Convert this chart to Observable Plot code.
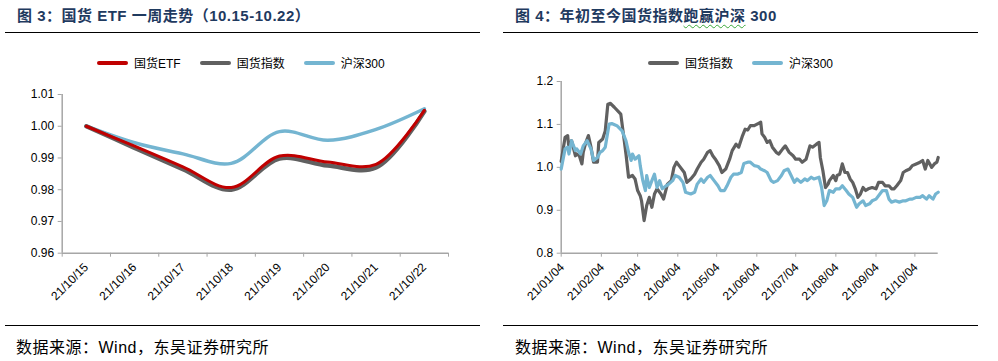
<!DOCTYPE html>
<html><head><meta charset="utf-8">
<script src="https://cdn.jsdelivr.net/npm/d3@7"></script>
<script src="https://cdn.jsdelivr.net/npm/@observablehq/plot@0.6"></script>
<style>
body{margin:0;background:#fff;width:998px;height:361px;overflow:hidden;position:relative;font-family:"Liberation Sans",Arial,"Noto Sans CJK SC",sans-serif;}
.panel{position:absolute;top:0;width:499px;height:361px;}
.title{position:absolute;top:4px;font-weight:700;font-size:15px;letter-spacing:0.5px;font-family:"Liberation Sans","Noto Sans CJK SC",sans-serif;color:#1f3a5f;white-space:nowrap;}
.wavy{text-decoration:underline wavy #3aa83a;text-decoration-thickness:1px;text-underline-offset:3px;}
.rule{position:absolute;height:0;border-top:1.4px solid #000;}
.legend{position:absolute;top:54px;display:flex;align-items:center;font-size:12px;color:#000;white-space:nowrap;font-family:"Liberation Sans","Noto Sans CJK SC",sans-serif;}
.sw{display:inline-block;width:31px;height:4px;border-radius:2px;margin-right:6px;}
.item{display:flex;align-items:center;margin-right:19px;}
.src{position:absolute;top:334px;left:16px;font-size:16px;letter-spacing:0.5px;color:#000;white-space:nowrap;font-family:"Liberation Sans","Noto Sans CJK SC",sans-serif;}
.chart{position:absolute;}
</style></head>
<body>
<div class="panel" id="p1" style="left:0">
  <div class="title" style="left:17px">图 3：国货 ETF 一周走势（10.15-10.22）</div>
  <div class="rule" style="left:5px;width:475px;top:32px"></div>
  <div class="legend" id="leg1" style="left:97px"></div>
  <div class="chart" id="c1" style="left:0;top:80px"></div>
  <div class="rule" style="left:5px;width:475px;top:325px"></div>
  <div class="src">数据来源：Wind，东吴证券研究所</div>
</div>
<div class="panel" id="p2" style="left:499px">
  <div class="title" style="left:16px">图 4：年初至今国货指数<span class="wavy">跑赢沪深</span> 300</div>
  <div class="rule" style="left:4px;width:475px;top:32px"></div>
  <div class="legend" id="leg2" style="left:149px"></div>
  <div class="chart" id="c2" style="left:0;top:70px"></div>
  <div class="rule" style="left:4px;width:475px;top:325px"></div>
  <div class="src">数据来源：Wind，东吴证券研究所</div>
</div>
<script>
// ---------- Figure 3 data ----------
const weekDates = ["21/10/15","21/10/16","21/10/17","21/10/18","21/10/19","21/10/20","21/10/21","21/10/22"];
const etfValues   = [1.000, 0.9937, 0.9872, 0.9807, 0.9906, 0.9887, 0.9880, 1.0050];
const indexWeek   = [1.000, 0.9932, 0.9865, 0.9800, 0.9898, 0.9876, 0.9870, 1.0047];
const hs300Week   = [1.000, 0.9948, 0.9913, 0.9883, 0.9983, 0.9956, 0.9990, 1.0055];
const weekYTicks  = [0.96, 0.97, 0.98, 0.99, 1.00, 1.01];

// ---------- Figure 4 data ----------
const indexDates = ["2021-01-04","2021-01-07","2021-01-09","2021-01-10","2021-01-12","2021-01-15","2021-01-16","2021-01-18","2021-01-20","2021-01-21","2021-01-23","2021-01-25","2021-01-27","2021-01-29","2021-02-01","2021-02-02","2021-02-05","2021-02-07","2021-02-09","2021-02-11","2021-02-14","2021-02-19","2021-02-21","2021-02-23","2021-02-25","2021-02-28","2021-03-02","2021-03-04","2021-03-06","2021-03-07","2021-03-09","2021-03-11","2021-03-13","2021-03-15","2021-03-17","2021-03-19","2021-03-22","2021-03-24","2021-03-27","2021-03-30","2021-04-01","2021-04-03","2021-04-05","2021-04-09","2021-04-11","2021-04-14","2021-04-17","2021-04-19","2021-04-22","2021-04-24","2021-04-27","2021-04-29","2021-05-01","2021-05-03","2021-05-06","2021-05-08","2021-05-11","2021-05-14","2021-05-16","2021-05-19","2021-05-21","2021-05-24","2021-05-26","2021-05-28","2021-05-30","2021-06-02","2021-06-05","2021-06-07","2021-06-08","2021-06-10","2021-06-12","2021-06-14","2021-06-16","2021-06-19","2021-06-21","2021-06-24","2021-06-26","2021-06-29","2021-07-02","2021-07-04","2021-07-07","2021-07-09","2021-07-12","2021-07-15","2021-07-17","2021-07-20","2021-07-22","2021-07-23","2021-07-25","2021-07-27","2021-07-29","2021-07-30","2021-08-02","2021-08-04","2021-08-05","2021-08-07","2021-08-09","2021-08-11","2021-08-13","2021-08-15","2021-08-17","2021-08-19","2021-08-21","2021-08-23","2021-08-25","2021-08-27","2021-08-29","2021-09-01","2021-09-04","2021-09-06","2021-09-09","2021-09-11","2021-09-14","2021-09-16","2021-09-18","2021-09-20","2021-09-23","2021-09-25","2021-09-27","2021-09-30","2021-10-02","2021-10-05","2021-10-08","2021-10-10","2021-10-12","2021-10-14","2021-10-17","2021-10-19","2021-10-21","2021-10-22"];
const indexValues = [1.014,1.070,1.074,1.043,1.062,1.027,1.031,1.027,1.008,1.035,1.058,1.074,1.047,1.012,1.012,1.058,1.066,1.085,1.147,1.149,1.140,1.124,1.078,1.031,0.977,0.981,0.973,0.946,0.934,0.922,0.876,0.911,0.930,0.907,0.938,0.950,0.938,0.926,0.961,0.969,1.000,1.012,1.004,0.988,0.965,0.973,0.984,0.996,1.012,1.019,1.035,1.039,1.027,1.019,1.004,0.988,0.996,1.019,1.039,1.054,1.047,1.074,1.089,1.087,1.097,1.097,1.102,1.105,1.078,1.070,1.058,1.062,1.047,1.035,1.031,1.043,1.050,1.035,1.027,1.019,1.019,1.012,1.019,1.050,1.047,1.054,1.058,1.023,0.992,0.953,0.961,0.969,0.981,0.969,0.981,0.984,1.008,0.988,0.988,0.973,0.965,0.950,0.930,0.938,0.953,0.946,0.950,0.953,0.950,0.965,0.965,0.957,0.957,0.950,0.950,0.957,0.969,0.988,0.992,0.996,1.004,1.008,1.012,1.016,0.996,1.016,1.000,1.008,1.012,1.023];

const hs300Dates = ["2021-01-04","2021-01-07","2021-01-09","2021-01-10","2021-01-12","2021-01-15","2021-01-16","2021-01-19","2021-01-21","2021-01-24","2021-01-27","2021-01-29","2021-02-01","2021-02-03","2021-02-05","2021-02-07","2021-02-10","2021-02-12","2021-02-16","2021-02-20","2021-02-23","2021-02-25","2021-02-27","2021-02-28","2021-03-02","2021-03-05","2021-03-06","2021-03-08","2021-03-10","2021-03-11","2021-03-13","2021-03-15","2021-03-17","2021-03-19","2021-03-21","2021-03-23","2021-03-26","2021-03-28","2021-03-31","2021-04-02","2021-04-05","2021-04-08","2021-04-10","2021-04-14","2021-04-17","2021-04-19","2021-04-22","2021-04-24","2021-04-27","2021-04-29","2021-05-02","2021-05-05","2021-05-07","2021-05-10","2021-05-12","2021-05-15","2021-05-17","2021-05-20","2021-05-23","2021-05-25","2021-05-28","2021-05-30","2021-06-02","2021-06-05","2021-06-07","2021-06-10","2021-06-12","2021-06-15","2021-06-17","2021-06-20","2021-06-23","2021-06-25","2021-06-28","2021-06-30","2021-07-03","2021-07-05","2021-07-08","2021-07-11","2021-07-13","2021-07-16","2021-07-18","2021-07-22","2021-07-24","2021-07-26","2021-07-28","2021-07-30","2021-08-02","2021-08-04","2021-08-07","2021-08-09","2021-08-12","2021-08-14","2021-08-17","2021-08-20","2021-08-22","2021-08-25","2021-08-27","2021-08-30","2021-09-01","2021-09-04","2021-09-07","2021-09-09","2021-09-12","2021-09-14","2021-09-16","2021-09-19","2021-09-22","2021-09-25","2021-09-27","2021-09-30","2021-10-02","2021-10-05","2021-10-08","2021-10-10","2021-10-13","2021-10-15","2021-10-18","2021-10-20","2021-10-22"];
const hs300Values = [0.996,1.043,1.047,1.031,1.062,1.039,1.043,1.031,1.050,1.062,1.043,1.016,1.023,1.035,1.039,1.047,1.101,1.102,1.097,1.085,1.062,1.035,1.016,1.031,1.019,1.027,1.004,0.969,0.946,0.981,0.953,0.969,0.984,0.953,0.969,0.950,0.957,0.961,0.969,0.981,0.977,0.965,0.942,0.938,0.942,0.961,0.973,0.965,0.977,0.981,0.969,0.957,0.946,0.946,0.957,0.977,0.984,0.984,0.988,1.009,1.012,1.012,1.004,1.002,0.996,0.992,0.988,0.969,0.965,0.969,0.981,0.992,0.996,0.984,0.965,0.973,0.965,0.973,0.969,0.977,0.973,0.977,0.953,0.911,0.922,0.946,0.942,0.950,0.950,0.957,0.946,0.938,0.930,0.907,0.915,0.922,0.911,0.915,0.922,0.926,0.938,0.946,0.946,0.926,0.919,0.922,0.919,0.922,0.922,0.926,0.926,0.930,0.930,0.934,0.926,0.934,0.926,0.938,0.942];

const monthTicks = ["2021-01-04","2021-02-04","2021-03-04","2021-04-04","2021-05-04","2021-06-04","2021-07-04","2021-08-04","2021-09-04","2021-10-04"];
const yearYTicks = [0.8, 0.9, 1.0, 1.1, 1.2];

// colours
const RED = "#c00000", GRAY = "#606060", BLUE = "#74b5d1", AXIS = "#a6a6a6";

function legend(el, items) {
  const box = document.getElementById(el);
  items.forEach(([name, color]) => {
    const it = document.createElement("div"); it.className = "item";
    const sw = document.createElement("span"); sw.className = "sw"; sw.style.background = color;
    const t = document.createElement("span"); t.textContent = name;
    it.append(sw, t); box.append(it);
  });
}
legend("leg1", [["国货ETF", RED], ["国货指数", GRAY], ["沪深300", BLUE]]);
legend("leg2", [["国货指数", GRAY], ["沪深300", BLUE]]);

const style = {fontFamily: "Liberation Sans, Arial, sans-serif", fontSize: "12px", color: "#000", background: "transparent", overflow: "visible"};

// ---------- Figure 3 ----------
const idx = weekDates.map((d, i) => i);
const weekData = (vals) => idx.map(i => ({i, v: vals[i]}));
const bounds = d3.range(-0.5, weekDates.length, 1);
const c1 = Plot.plot({
  width: 499, height: 240,
  marginLeft: 61.7, marginRight: 51, marginTop: 14, marginBottom: 67.3,
  style,
  x: {type: "linear", domain: [-0.5, weekDates.length - 0.5]},
  y: {domain: [0.96, 1.01]},
  marks: [
    Plot.axisY({ticks: weekYTicks, tickFormat: d3.format(".2f"), tickSize: 4, stroke: AXIS, tickPadding: 4, fill: "#000", label: null}),
    Plot.axisX({ticks: bounds, tickFormat: () => "", tickSize: 4, stroke: AXIS, label: null}),
    Plot.text(idx, {x: d => d, frameAnchor: "bottom", text: i => weekDates[i], rotate: -45, textAnchor: "end", lineAnchor: "middle", dy: 12, dx: 0, fill: "#000"}),
    Plot.ruleX([-0.5], {stroke: AXIS, strokeWidth: 1.5}),
    Plot.ruleY([0.96], {stroke: AXIS, strokeWidth: 1.5}),
    Plot.line(weekData(hs300Week), {x: "i", y: "v", stroke: BLUE, strokeWidth: 3.5, curve: "catmull-rom"}),
    Plot.line(weekData(indexWeek), {x: "i", y: "v", stroke: GRAY, strokeWidth: 4.5, curve: "catmull-rom"}),
    Plot.line(weekData(etfValues), {x: "i", y: "v", stroke: RED, strokeWidth: 3, curve: "catmull-rom"})
  ]
});
document.getElementById("c1").append(c1);

// ---------- Figure 4 ----------
const parse = d3.utcParse("%Y-%m-%d");
const idxSeries = indexDates.map((d, i) => ({date: parse(d), v: indexValues[i]}));
const hsSeries = hs300Dates.map((d, i) => ({date: parse(d), v: hs300Values[i]}));
const mt = monthTicks.map(parse);
const fmt = d3.utcFormat("%y/%m/%d");
const c2 = Plot.plot({
  width: 499, height: 240,
  marginLeft: 61.7, marginRight: 60.3, marginTop: 11, marginBottom: 57.3,
  style,
  x: {type: "utc", domain: [parse("2021-01-04"), parse("2021-10-22")]},
  y: {domain: [0.8, 1.2]},
  marks: [
    Plot.axisY({ticks: yearYTicks, tickFormat: d3.format(".1f"), tickSize: 4, stroke: AXIS, tickPadding: 4, fill: "#000", label: null}),
    Plot.axisX({ticks: mt, tickFormat: () => "", tickSize: 4, stroke: AXIS, label: null}),
    Plot.text(mt, {x: d => d, frameAnchor: "bottom", text: d => fmt(d), rotate: -45, textAnchor: "end", lineAnchor: "middle", dy: 12, dx: 1, fill: "#000"}),
    Plot.ruleX([parse("2021-01-04")], {stroke: AXIS, strokeWidth: 1.5}),
    Plot.ruleY([0.8], {stroke: AXIS, strokeWidth: 1.5}),
    Plot.line(idxSeries, {x: "date", y: "v", stroke: GRAY, strokeWidth: 3.2}),
    Plot.line(hsSeries, {x: "date", y: "v", stroke: BLUE, strokeWidth: 3.2})
  ]
});
document.getElementById("c2").append(c2);
</script>
</body></html>
